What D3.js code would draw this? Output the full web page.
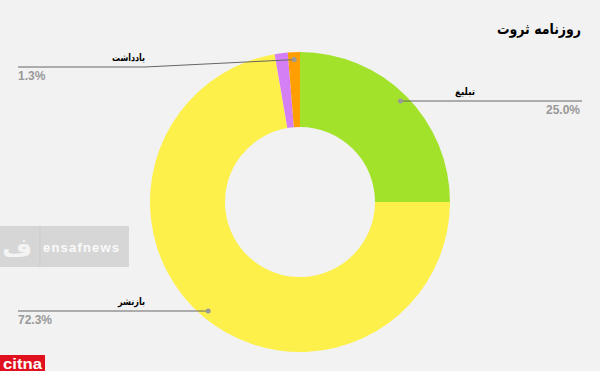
<!DOCTYPE html>
<html><head><meta charset="utf-8">
<script src="https://cdn.jsdelivr.net/npm/d3@7"></script>
<style>html,body{margin:0;padding:0;background:#f2f2f2;}svg{display:block;}</style>
</head><body>
<script>
const title = "روزنامه ثروت";
const categories = ["تبلیغ", "بازنشر", "سایر", "یادداشت"];
const values = [25.0, 72.3, 1.4, 1.3];
const colors = ["#a3e22b", "#fdf04b", "#d57ff5", "#ff9e00"];
const showLabel = [true, true, false, true];

const W = 600, H = 371;
const svg = d3.select("body").append("svg").attr("width", W).attr("height", H);
svg.append("rect").attr("width", W).attr("height", H).attr("fill", "#f2f2f2");

const cx = 300, cy = 202, R = 150, r = 75;
const pie = d3.pie().sort(null).value(d => d.v);
const data = pie(categories.map((c, i) => ({c, v: values[i], col: colors[i], lab: showLabel[i]})));
const arc = d3.arc().innerRadius(r).outerRadius(R);
const g = svg.append("g").attr("transform", `translate(${cx},${cy})`);
g.selectAll("path").data(data).join("path").attr("d", arc).attr("fill", d => d.data.col);

// watermark boxes
const wm = svg.append("g");
wm.append("rect").attr("x", 0).attr("y", 226).attr("width", 129).attr("height", 41).attr("fill", "#d6d6d6");
wm.append("line").attr("x1", 40).attr("x2", 40).attr("y1", 226).attr("y2", 267).attr("stroke", "#cbcbcb");
wm.append("text").attr("x", 2).attr("y", 256).attr("fill", "#f4f4f4").attr("font-family", "DejaVu Sans").attr("font-size", 26).attr("font-weight", "bold").text("ف");
wm.append("text").attr("x", 43).attr("y", 252).attr("fill", "#fafafa").attr("font-family", "Liberation Sans, Arial").attr("font-size", 13).attr("font-weight", "bold")
  .attr("textLength", 76).attr("lengthAdjust", "spacing").text("ensafnews");
wm.append("rect").attr("x", 0).attr("y", 355).attr("width", 45).attr("height", 16).attr("fill", "#e0101e");
wm.append("text").attr("x", 3).attr("y", 369).attr("fill", "#fff").attr("font-family", "Liberation Sans, Arial").attr("font-size", 15).attr("font-weight", "bold")
  .attr("textLength", 39).attr("lengthAdjust", "spacingAndGlyphs").text("citna");

// title
svg.append("text").attr("x", 581).attr("y", 34).attr("text-anchor", "end")
  .attr("font-family", "DejaVu Sans").attr("font-size", 15).attr("font-weight", "bold")
  .attr("textLength", 84).attr("lengthAdjust", "spacingAndGlyphs")
  .attr("fill", "#000").text(title);

// labels
const labelPos = {
  "تبلیغ": {side: "right", y: 101, tw: 20},
  "بازنشر": {side: "left", y: 311, tw: 27},
  "یادداشت": {side: "left", y: 67, tw: 33}
};
const dotR = 142.5;
const lab = svg.append("g");
data.filter(d => d.data.lab).forEach(d => {
  const p = labelPos[d.data.c];
  const a = (d.startAngle + d.endAngle) / 2;
  let dx, dy;
  if (d.data.c === "یادداشت") {
    dx = cx + dotR * Math.sin(a); dy = cy - dotR * Math.cos(a);
  } else {
    dy = p.y;
    const off = Math.sqrt(dotR * dotR - (dy - cy) * (dy - cy));
    dx = Math.sin(a) >= 0 ? cx + off : cx - off;
  }
  const endX = p.side === "right" ? 582 : 18;
  const pts = (dy === p.y) ? [[dx, dy], [endX, p.y]] : [[dx, dy], [145, p.y], [endX, p.y]];
  lab.append("path").attr("d", d3.line()(pts)).attr("fill", "none").attr("stroke", "#666").attr("stroke-width", 1);
  lab.append("circle").attr("cx", dx).attr("cy", dy).attr("r", 2.5).attr("fill", "#999");
  const pct = d.data.v.toFixed(1) + "%";
  const tx = p.side === "right" ? 475 : 145;
  lab.append("text").attr("x", tx).attr("y", p.y - 6).attr("text-anchor", "end")
    .attr("font-family", "DejaVu Sans").attr("font-size", 10).attr("font-weight", "bold")
    .attr("textLength", p.tw).attr("lengthAdjust", "spacingAndGlyphs").text(d.data.c);
  lab.append("text").attr("x", p.side === "right" ? 580 : 18).attr("y", p.y + 13)
    .attr("text-anchor", p.side === "right" ? "end" : "start")
    .attr("font-family", "Liberation Sans, Arial").attr("font-size", 12).attr("font-weight", "bold").attr("fill", "#999").text(pct);
});
</script>
</body></html>
